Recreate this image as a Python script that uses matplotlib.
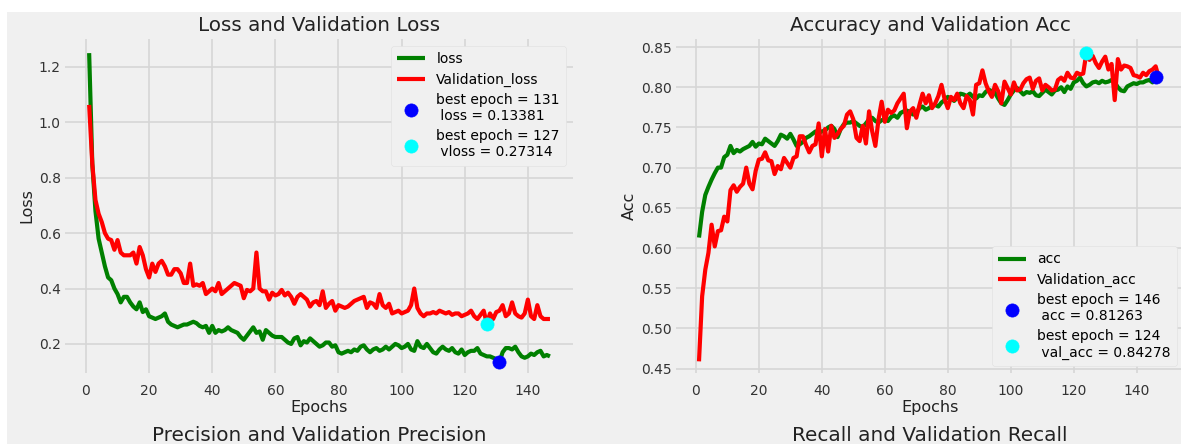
import matplotlib
matplotlib.use("Agg")
import matplotlib.pyplot as plt
from matplotlib.patches import Rectangle

# ---------------- data ----------------
epochs = list(range(1, 148))

loss = [1.25, 0.85, 0.68, 0.58, 0.53, 0.48, 0.44, 0.43, 0.40, 0.38,
        0.35, 0.37, 0.37, 0.35, 0.335, 0.325, 0.35, 0.315, 0.325, 0.30,
        0.295, 0.29, 0.295, 0.30, 0.31, 0.28, 0.27, 0.265, 0.26, 0.265,
        0.27, 0.27, 0.275, 0.28, 0.275, 0.265, 0.26, 0.265, 0.24, 0.265,
        0.24, 0.25, 0.245, 0.25, 0.26, 0.25, 0.245, 0.24, 0.225, 0.215,
        0.23, 0.245, 0.26, 0.24, 0.245, 0.215, 0.25, 0.24, 0.23, 0.225,
        0.225, 0.225, 0.215, 0.205, 0.20, 0.22, 0.225, 0.195, 0.21, 0.205,
        0.22, 0.21, 0.20, 0.19, 0.195, 0.205, 0.205, 0.19, 0.195, 0.17,
        0.165, 0.17, 0.175, 0.17, 0.18, 0.175, 0.19, 0.195, 0.18, 0.17,
        0.18, 0.185, 0.175, 0.18, 0.19, 0.18, 0.19, 0.20, 0.195, 0.185,
        0.19, 0.20, 0.18, 0.175, 0.21, 0.19, 0.185, 0.20, 0.185, 0.17,
        0.165, 0.18, 0.19, 0.18, 0.175, 0.185, 0.17, 0.165, 0.18, 0.16,
        0.17, 0.175, 0.175, 0.185, 0.165, 0.16, 0.155, 0.155, 0.15, 0.145,
        0.13381, 0.17, 0.185, 0.185, 0.18, 0.19, 0.17, 0.155, 0.15, 0.155,
        0.165, 0.16, 0.17, 0.175, 0.155, 0.16, 0.155]

val_loss = [1.063, 0.85, 0.72, 0.67, 0.64, 0.60, 0.58, 0.575, 0.54, 0.575,
            0.53, 0.52, 0.52, 0.52, 0.53, 0.49, 0.55, 0.52, 0.47, 0.44,
            0.49, 0.46, 0.49, 0.50, 0.48, 0.45, 0.45, 0.47, 0.47, 0.455,
            0.42, 0.42, 0.49, 0.41, 0.415, 0.41, 0.42, 0.38, 0.39, 0.40,
            0.39, 0.42, 0.38, 0.39, 0.40, 0.41, 0.42, 0.415, 0.41, 0.365,
            0.395, 0.39, 0.40, 0.53, 0.40, 0.39, 0.39, 0.36, 0.385, 0.375,
            0.38, 0.395, 0.375, 0.385, 0.37, 0.345, 0.37, 0.38, 0.37, 0.36,
            0.335, 0.35, 0.355, 0.34, 0.39, 0.33, 0.345, 0.355, 0.32, 0.34,
            0.335, 0.33, 0.335, 0.345, 0.355, 0.36, 0.365, 0.37, 0.33, 0.35,
            0.345, 0.33, 0.38, 0.34, 0.33, 0.345, 0.31, 0.315, 0.32, 0.31,
            0.315, 0.32, 0.34, 0.40, 0.33, 0.31, 0.30, 0.31, 0.31, 0.315,
            0.31, 0.32, 0.315, 0.31, 0.315, 0.305, 0.31, 0.31, 0.30, 0.305,
            0.31, 0.32, 0.30, 0.29, 0.305, 0.32, 0.27314, 0.31, 0.29, 0.315,
            0.32, 0.34, 0.30, 0.31, 0.35, 0.31, 0.30, 0.295, 0.31, 0.36,
            0.30, 0.29, 0.34, 0.30, 0.29, 0.29, 0.29]

acc = [0.613, 0.645, 0.666, 0.676, 0.685, 0.693, 0.700, 0.700, 0.713, 0.716,
       0.727, 0.718, 0.722, 0.720, 0.723, 0.725, 0.727, 0.732, 0.726, 0.730,
       0.729, 0.736, 0.733, 0.730, 0.727, 0.733, 0.741, 0.739, 0.736, 0.742,
       0.735, 0.727, 0.729, 0.732, 0.737, 0.739, 0.742, 0.745, 0.743, 0.745,
       0.746, 0.750, 0.752, 0.748, 0.738, 0.748, 0.754, 0.756, 0.756, 0.758,
       0.755, 0.752, 0.750, 0.755, 0.760, 0.762, 0.758, 0.756, 0.759, 0.760,
       0.758, 0.763, 0.765, 0.762, 0.768, 0.770, 0.771, 0.769, 0.766, 0.768,
       0.774, 0.776, 0.772, 0.774, 0.777, 0.778, 0.776, 0.781, 0.784, 0.788,
       0.786, 0.783, 0.787, 0.792, 0.791, 0.789, 0.792, 0.788, 0.786, 0.790,
       0.789, 0.794, 0.797, 0.795, 0.793, 0.786, 0.780, 0.778, 0.784, 0.791,
       0.796, 0.799, 0.795, 0.791, 0.794, 0.793, 0.795, 0.790, 0.789, 0.793,
       0.797, 0.794, 0.791, 0.796, 0.797, 0.800, 0.794, 0.801, 0.798, 0.806,
       0.808, 0.812, 0.805, 0.801, 0.803, 0.806, 0.807, 0.805, 0.808, 0.806,
       0.807, 0.809, 0.806, 0.800, 0.796, 0.795, 0.801, 0.803, 0.805, 0.804,
       0.806, 0.806, 0.808, 0.809, 0.806, 0.81263, 0.810]

val_acc = [0.459, 0.540, 0.573, 0.594, 0.629, 0.602, 0.621, 0.622, 0.639, 0.633,
           0.672, 0.678, 0.670, 0.676, 0.680, 0.700, 0.680, 0.673, 0.696, 0.710,
           0.711, 0.719, 0.709, 0.708, 0.692, 0.702, 0.698, 0.712, 0.706, 0.700,
           0.712, 0.714, 0.739, 0.739, 0.728, 0.719, 0.727, 0.729, 0.755, 0.714,
           0.748, 0.720, 0.752, 0.737, 0.742, 0.748, 0.752, 0.766, 0.770, 0.760,
           0.737, 0.733, 0.752, 0.730, 0.770, 0.745, 0.727, 0.760, 0.782, 0.757,
           0.772, 0.768, 0.771, 0.780, 0.786, 0.792, 0.749, 0.770, 0.774, 0.762,
           0.778, 0.792, 0.780, 0.790, 0.774, 0.780, 0.789, 0.803, 0.785, 0.774,
           0.788, 0.784, 0.792, 0.780, 0.774, 0.789, 0.784, 0.766, 0.803, 0.805,
           0.821, 0.805, 0.795, 0.788, 0.803, 0.795, 0.780, 0.807, 0.799, 0.791,
           0.806, 0.796, 0.797, 0.805, 0.810, 0.812, 0.798, 0.808, 0.811, 0.796,
           0.803, 0.800, 0.796, 0.797, 0.809, 0.812, 0.808, 0.818, 0.812, 0.811,
           0.818, 0.816, 0.817, 0.84278, 0.834, 0.839, 0.830, 0.824, 0.832, 0.838,
           0.822, 0.829, 0.784, 0.835, 0.822, 0.827, 0.826, 0.824, 0.815, 0.814,
           0.812, 0.818, 0.815, 0.820, 0.822, 0.826, 0.812]

best_loss_epoch, best_loss = 131, 0.13381
best_vloss_epoch, best_vloss = 127, 0.27314
best_acc_epoch, best_acc = 146, 0.81263
best_vacc_epoch, best_vacc = 124, 0.84278

titles_top = ["Loss and Validation Loss", "Accuracy and Validation Acc"]
titles_bottom = ["Precision and Validation Precision", "Recall and Validation Recall"]

# ---------------- figure ----------------
plt.style.use("fivethirtyeight")
plt.rcParams["font.family"] = ["DejaVu Sans"]

W, H = 1181, 444
fig = plt.figure(figsize=(W / 100, H / 100), dpi=100)
fig.patch.set_facecolor("white")
fig.patches.append(Rectangle((7 / W, 0), 1, (H - 12) / H, transform=fig.transFigure,
                             facecolor="#f0f0f0", edgecolor="none", zorder=-10))

ax1 = fig.add_axes([65 / W, (H - 373) / H, 508 / W, 334 / H])
ax2 = fig.add_axes([676 / W, (H - 373) / H, 508 / W, 334 / H])

for ax in (ax1, ax2):
    ax.set_facecolor("#f0f0f0")
    ax.grid(True, color="#d6d6d6", linewidth=1.2)
    ax.tick_params(axis="both", labelsize=10, length=0, colors="#333333")
    ax.tick_params(axis="x", pad=8)
    ax.tick_params(axis="y", pad=3)
    for s in ax.spines.values():
        s.set_visible(False)

lw = 3
ax1.plot(epochs, loss, color="green", lw=lw, label="loss")
ax1.plot(epochs, val_loss, color="red", lw=lw, label="Validation_loss")
ax1.scatter(best_loss_epoch, best_loss, s=90, color="blue", zorder=3,
            label=f"best epoch = {best_loss_epoch}\n loss = {best_loss}")
ax1.scatter(best_vloss_epoch, best_vloss, s=90, color="cyan", zorder=3,
            label=f"best epoch = {best_vloss_epoch}\n vloss = {best_vloss}")
ax1.set_xlim(-6.65, 154.3)
ax1.set_ylim(0.095, 1.301)
ax1.set_xticks([0, 20, 40, 60, 80, 100, 120, 140])
ax1.set_yticks([0.2, 0.4, 0.6, 0.8, 1.0, 1.2])
ax1.set_title(titles_top[0], fontsize=14.3, pad=6, color="#222222")
ax1.set_xlabel("Epochs", fontsize=11.5, labelpad=1, color="#222222")
ax1.set_ylabel("Loss", fontsize=11.5, labelpad=3, color="#222222")
ax1.legend(loc="upper right", fontsize=10, facecolor="#f0f0f0", edgecolor="#e2e2e2",
           framealpha=1, handlelength=2, labelspacing=0.45, borderpad=0.45)

ax2.plot(epochs, acc, color="green", lw=lw, label="acc")
ax2.plot(epochs, val_acc, color="red", lw=lw, label="Validation_acc")
ax2.scatter(best_acc_epoch, best_acc, s=90, color="blue", zorder=3,
            label=f"best epoch = {best_acc_epoch}\n acc = {best_acc}")
ax2.scatter(best_vacc_epoch, best_vacc, s=90, color="cyan", zorder=3,
            label=f"best epoch = {best_vacc_epoch}\n val_acc = {best_vacc}")
ax2.set_xlim(-6.3, 155.0)
ax2.set_ylim(0.4445, 0.860)
ax2.set_xticks([0, 20, 40, 60, 80, 100, 120, 140])
ax2.set_yticks([0.45, 0.50, 0.55, 0.60, 0.65, 0.70, 0.75, 0.80, 0.85])
ax2.set_title(titles_top[1], fontsize=14.3, pad=6, color="#222222")
ax2.set_xlabel("Epochs", fontsize=11.5, labelpad=1, color="#222222")
ax2.set_ylabel("Acc", fontsize=11.5, labelpad=3, color="#222222")
ax2.legend(loc="lower right", fontsize=10, facecolor="#f0f0f0", edgecolor="#e2e2e2",
           framealpha=1, handlelength=2, labelspacing=0.45, borderpad=0.45)

fig.text(319 / W, 3 / H, titles_bottom[0], ha="center", va="baseline", fontsize=14.4, color="#222222")
fig.text(930 / W, 3 / H, titles_bottom[1], ha="center", va="baseline", fontsize=14.4, color="#222222")

fig.savefig("out.png", dpi=100, facecolor=fig.get_facecolor())
